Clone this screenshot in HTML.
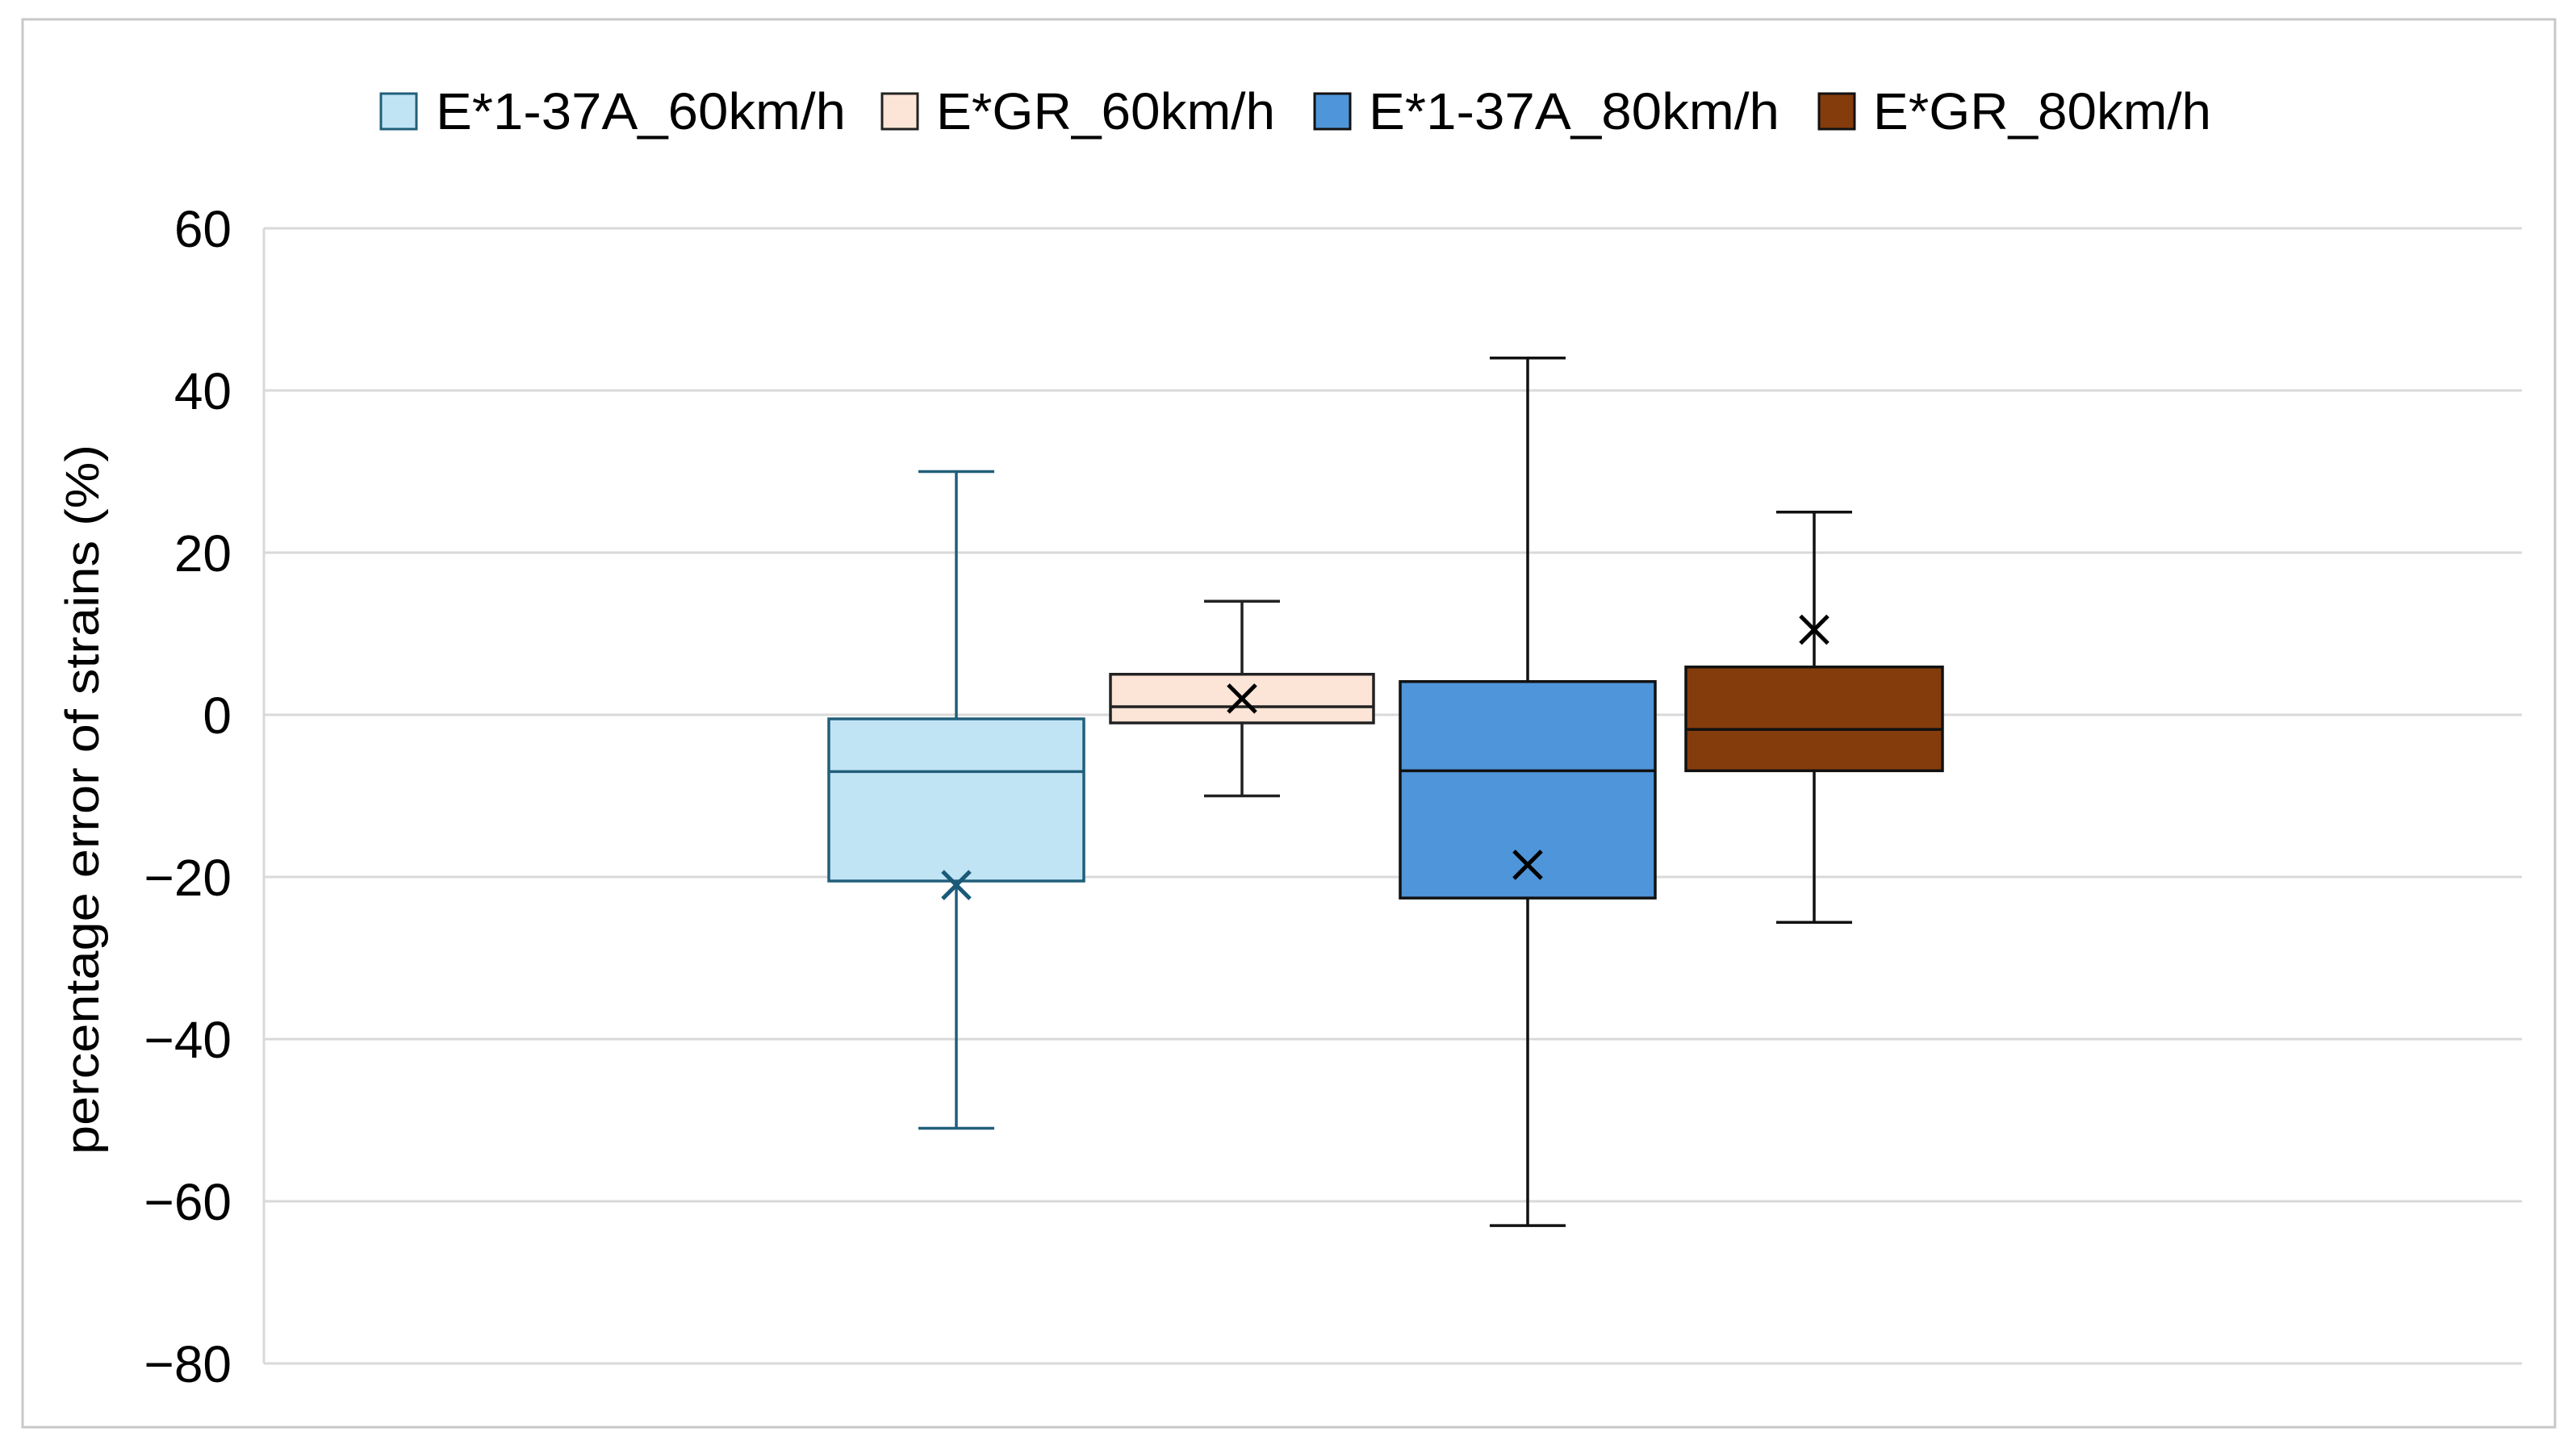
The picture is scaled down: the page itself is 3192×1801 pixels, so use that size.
<!DOCTYPE html>
<html><head><meta charset="utf-8"><style>
html,body{margin:0;padding:0;background:#fff;}
svg{display:block;font-family:"Liberation Sans",sans-serif;}
</style></head><body>
<svg id="chart" width="3192" height="1801" viewBox="0 0 3192 1801" xmlns="http://www.w3.org/2000/svg">
<rect x="28" y="24" width="3138" height="1745" fill="#fff" stroke="#c8c8c8" stroke-width="3"/>
<g id="grid"></g>
<g id="yticks"></g>
<text transform="translate(122,991) rotate(-90)" text-anchor="middle" font-size="58" fill="#000" textLength="880" lengthAdjust="spacingAndGlyphs">percentage error of strains (%)</text>
<g id="boxes"></g>
<g id="legend"></g>
</svg>
<script>
const categories = ["E*1-37A_60km/h","E*GR_60km/h","E*1-37A_80km/h","E*GR_80km/h"];
const whiskerMax = [30, 14, 44, 25];
const q3Values = [-0.5, 5, 4.1, 5.9];
const medianValues = [-7, 1, -6.9, -1.8];
const q1Values = [-20.5, -1, -22.6, -6.9];
const whiskerMin = [-51, -10, -63, -25.6];
const meanValues = [-21, 2, -18.5, 10.5];
const yTicks = [60, 40, 20, 0, -20, -40, -60, -80];
const tickLabels = ["60","40","20","0","\u221220","\u221240","\u221260","\u221280"];

const fills = ["#c1e4f5","#fce4d6","#4e95d9","#843c0c"];
const strokes = ["#215f7a","#222","#111","#111"];
const NS = "http://www.w3.org/2000/svg";
const plotL = 327, plotR = 3125, yTop = 283, yBot = 1690, yMax = 60, yMin = -80;
const y = v => yTop + (yMax - v) / (yMax - yMin) * (yBot - yTop);
const xCenters = [1185, 1539, 1893, 2248];
const boxHalf = [158, 163, 158, 159];
const capHalf = 47;
function mk(tag, attrs, parent){const e=document.createElementNS(NS,tag);for(const k in attrs)e.setAttribute(k,attrs[k]);parent.appendChild(e);return e;}

const grid = document.getElementById('grid');
const yt = document.getElementById('yticks');
yTicks.forEach((t,i)=>{
  const l = mk('line',{x1:plotL,x2:plotR,y1:y(t),y2:y(t),stroke:'#d9d9d9','stroke-width':3},grid);
  
  
  const tx = mk('text',{x:287,y:y(t)+23,'text-anchor':'end','font-size':64,fill:'#000'},yt);
  tx.textContent = tickLabels[i];
  
  
});
mk('line',{x1:plotL,x2:plotL,y1:yTop,y2:yBot,stroke:'#d9d9d9','stroke-width':3},grid);

const boxes = document.getElementById('boxes');
categories.forEach((c,i)=>{
  const g = mk('g',{},boxes);
  
  
  const cx = xCenters[i], s = strokes[i], w = 3.5;
  mk('line',{x1:cx,x2:cx,y1:y(whiskerMax[i]),y2:y(q3Values[i]),stroke:s,'stroke-width':w},g);
  mk('line',{x1:cx,x2:cx,y1:y(q1Values[i]),y2:y(whiskerMin[i]),stroke:s,'stroke-width':w},g);
  mk('line',{x1:cx-capHalf,x2:cx+capHalf,y1:y(whiskerMax[i]),y2:y(whiskerMax[i]),stroke:s,'stroke-width':w},g);
  mk('line',{x1:cx-capHalf,x2:cx+capHalf,y1:y(whiskerMin[i]),y2:y(whiskerMin[i]),stroke:s,'stroke-width':w},g);
  mk('rect',{x:cx-boxHalf[i],y:y(q3Values[i]),width:2*boxHalf[i],height:y(q1Values[i])-y(q3Values[i]),fill:fills[i],stroke:s,'stroke-width':w},g);
  mk('line',{x1:cx-boxHalf[i],x2:cx+boxHalf[i],y1:y(medianValues[i]),y2:y(medianValues[i]),stroke:s,'stroke-width':w},g);
  const my = y(meanValues[i]), m = 17;
  const ms = i===0 ? '#1a5a78' : '#000';
  mk('path',{d:`M${cx-m},${my-m}L${cx+m},${my+m}M${cx+m},${my-m}L${cx-m},${my+m}`,stroke:ms,'stroke-width':5,fill:'none'},g);
});

const legend = document.getElementById('legend');
const legSq = [472, 1093, 1629, 2254];
const legTx = [540, 1160, 1696, 2321];
const legW = [508, 420, 509, 419];
categories.forEach((c,i)=>{
  const g = mk('g',{},legend);
  
  
  mk('rect',{x:legSq[i],y:116,width:44,height:44,fill:fills[i],stroke:strokes[i],'stroke-width':3},g);
  const t = mk('text',{x:legTx[i],y:160,'font-size':64,fill:'#000',textLength:legW[i],lengthAdjust:'spacingAndGlyphs'},g);
  t.textContent = c;
});
</script>
</body></html>
